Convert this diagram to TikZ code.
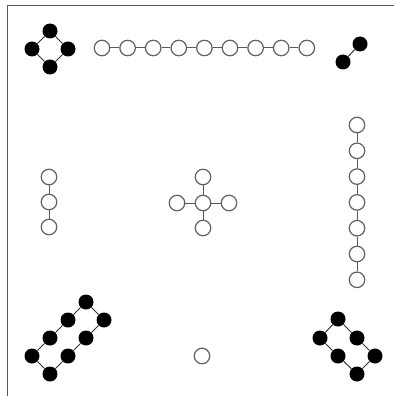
\documentclass[tikz,border=0pt]{standalone}
\begin{document}
\begin{tikzpicture}[x=1pt,y=-1pt,
  wnode/.style={circle,draw=black!62,line width=1.2pt,fill=white,minimum size=15.5pt,inner sep=0pt},
  bnode/.style={circle,fill=black,minimum size=15pt,inner sep=0pt},
  wedge/.style={draw=black!65,line width=1pt},
  bedge/.style={draw=black!80,line width=1pt},
  frame/.style={draw=black!65,line width=1pt}]
\useasboundingbox (0,0) rectangle (394,396);
% frame
\coordinate (f1) at (7,396);
\coordinate (f2) at (7,6);
\coordinate (f3) at (394,6);
\draw[frame] (f1) -- (f2) -- (f3);
% top-left diamond
\node[bnode] (d1) at (50,31) {};
\node[bnode] (d2) at (32,49) {};
\node[bnode] (d3) at (68,49) {};
\node[bnode] (d4) at (50,67) {};
\draw[bedge] (d1) -- (d2) -- (d4) -- (d3) -- (d1);
% horizontal chain
\foreach \i in {0,...,8} {
  \node[wnode] (h\i) at ({102+25.6*\i},48) {};
}
\foreach \i [evaluate=\i as \j using int(\i+1)] in {0,...,7} {
  \draw[wedge] (h\i) -- (h\j);
}
% top-right pair
\node[bnode] (p1) at (360,44) {};
\node[bnode] (p2) at (343,62) {};
\draw[bedge] (p1) -- (p2);
% left vertical chain
\node[wnode] (l1) at (49,177) {};
\node[wnode] (l2) at (49,202) {};
\node[wnode] (l3) at (49,227) {};
\draw[wedge] (l1) -- (l2) -- (l3);
% center cross
\node[wnode] (c0) at (203,203) {};
\node[wnode] (cn) at (203,177) {};
\node[wnode] (cs) at (203,228) {};
\node[wnode] (cw) at (177,203) {};
\node[wnode] (ce) at (229,203) {};
\draw[wedge] (c0) -- (cn);
\draw[wedge] (c0) -- (cs);
\draw[wedge] (c0) -- (cw);
\draw[wedge] (c0) -- (ce);
% right vertical chain
\foreach \i in {0,...,6} {
  \node[wnode] (r\i) at (357,{125+25.8*\i}) {};
}
\foreach \i [evaluate=\i as \j using int(\i+1)] in {0,...,5} {
  \draw[wedge] (r\i) -- (r\j);
}
% bottom-left ring
\node[bnode] (a1) at (32,356) {};
\node[bnode] (a2) at (50,338) {};
\node[bnode] (a3) at (68,320) {};
\node[bnode] (a4) at (86,302) {};
\node[bnode] (a5) at (104,320) {};
\node[bnode] (a6) at (86,338) {};
\node[bnode] (a7) at (68,356) {};
\node[bnode] (a8) at (50,374) {};
\draw[bedge] (a1) -- (a2) -- (a3) -- (a4) -- (a5) -- (a6) -- (a7) -- (a8) -- (a1);
% bottom center single
\node[wnode] (s) at (202,356) {};
% bottom-right ring
\node[bnode] (b1) at (338,319) {};
\node[bnode] (b2) at (320,338) {};
\node[bnode] (b3) at (357,338) {};
\node[bnode] (b4) at (338,356) {};
\node[bnode] (b5) at (375,356) {};
\node[bnode] (b6) at (357,374) {};
\draw[bedge] (b1) -- (b2) -- (b4) -- (b6) -- (b5) -- (b3) -- (b1);
\end{tikzpicture}
\end{document}
